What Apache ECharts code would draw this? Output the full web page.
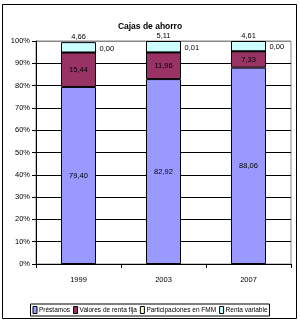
<!DOCTYPE html>
<html><head><meta charset="utf-8">
<script src="https://cdn.jsdelivr.net/npm/echarts@6/dist/echarts.min.js"></script>
<style>html,body{margin:0;padding:0;background:#fff}#c{width:300px;height:323px}</style>
</head><body><div id="c"></div>
<script>
const categories = ['1999', '2003', '2007'];
const prestamos = [79.40, 82.92, 88.06];
const valoresRentaFija = [15.44, 11.96, 7.33];
const participacionesFMM = [0.00, 0.01, 0.00];
const rentaVariable = [4.66, 5.11, 4.61];
const seriesNames = ['Préstamos', 'Valores de renta fija', 'Participaciones en FMM', 'Renta variable'];

const FONT = "'Liberation Sans Narrow', 'Arial Narrow', 'Liberation Sans', sans-serif";
const fmt = p => p.value.toFixed(2).replace('.', ',');
const lbl = (pos, extra) => Object.assign({show: true, position: pos, formatter: fmt, color: '#000', fontFamily: FONT, fontSize: 7.5}, extra || {});

const chart = echarts.init(document.getElementById('c'), null, {renderer: 'canvas'});
chart.setOption({
  animation: false,
  backgroundColor: '#fff',
  title: {text: 'Cajas de ahorro', left: 'center', top: 17, textStyle: {fontFamily: FONT, fontSize: 8.5, fontWeight: 'bold', color: '#000'}},
  graphic: [{type: 'rect', shape: {x: 2.5, y: 4.5, width: 294, height: 314}, style: {fill: 'none', stroke: '#000', lineWidth: 1}, z: -1}],
  grid: {left: 36, right: 9, top: 41, bottom: 59, show: true, borderColor: '#888', borderWidth: 1, backgroundColor: '#fff'},
  legend: {
    bottom: 7, left: 'center', width: 296, itemWidth: 4, itemHeight: 7, itemGap: 3,
    padding: [2, 2, 2, 2], borderColor: '#000', borderWidth: 1,
    icon: 'rect',
    textStyle: {fontFamily: FONT, fontSize: 6.5, color: '#000', padding: [0, 0, 0, -3]},
    data: seriesNames.map(n => ({name: n, itemStyle: {borderColor: '#000', borderWidth: 1}}))
  },
  xAxis: {
    type: 'category', data: categories,
    axisLine: {lineStyle: {color: '#000'}},
    axisTick: {show: true, length: 4, lineStyle: {color: '#000'}},
    axisLabel: {color: '#000', fontFamily: FONT, fontSize: 7.5, margin: 12}
  },
  yAxis: {
    type: 'value', min: 0, max: 100, interval: 10,
    axisLine: {show: true, lineStyle: {color: '#000'}},
    axisTick: {show: true, length: 4, lineStyle: {color: '#000'}},
    axisLabel: {formatter: '{value}%', color: '#000', fontFamily: FONT, fontSize: 7.5, margin: 6},
    splitLine: {show: true, lineStyle: {color: ['#000','#000','#000','#000','#000','#000','#000','#000','#000','#000','#888']}}
  },
  series: [
    {name: seriesNames[0], type: 'bar', stack: 't', data: prestamos, barWidth: 35,
     itemStyle: {color: '#9999FF', borderColor: '#000', borderWidth: 1}, label: lbl('inside')},
    {name: seriesNames[1], type: 'bar', stack: 't', data: valoresRentaFija,
     itemStyle: {color: '#993366', borderColor: '#000', borderWidth: 1}, label: lbl('inside')},
    {name: seriesNames[2], type: 'bar', stack: 't', data: participacionesFMM,
     itemStyle: {color: '#FFFFCC', borderColor: '#000', borderWidth: 1}, label: lbl('right', {distance: 3, offset: [0, -4]})},
    {name: seriesNames[3], type: 'bar', stack: 't', data: rentaVariable,
     itemStyle: {color: '#CCFFFF', borderColor: '#000', borderWidth: 1}, label: lbl('top', {distance: 1})}
  ]
});
</script></body></html>
